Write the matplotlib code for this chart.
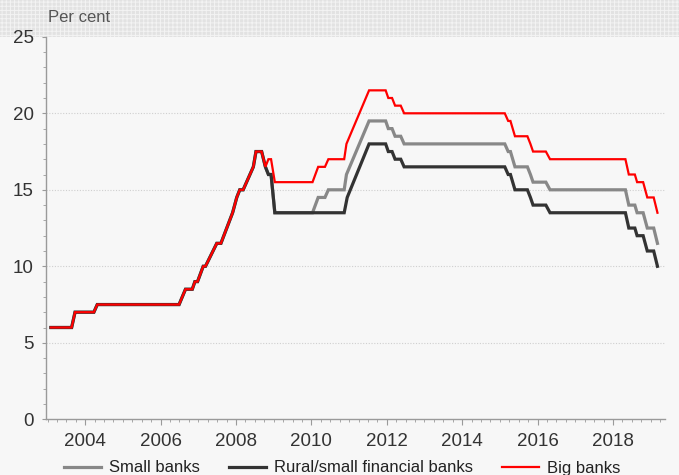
import matplotlib
matplotlib.use("Agg")
import matplotlib.pyplot as plt
from matplotlib.patches import Rectangle
from matplotlib.ticker import MultipleLocator

# vertices (decimal year, per cent)
small_x = [2003.09, 2003.64, 2003.73, 2004.23, 2004.32, 2006.49, 2006.66, 2006.84, 2006.91,
           2006.98, 2007.13, 2007.19, 2007.49, 2007.60, 2007.91, 2008.02, 2008.10, 2008.19,
           2008.46, 2008.53, 2008.68, 2008.78, 2008.86, 2008.93, 2009.03, 2010.03, 2010.18,
           2010.36, 2010.45, 2010.87, 2010.93, 2011.53, 2011.97, 2012.04, 2012.14, 2012.22,
           2012.37, 2012.46, 2015.13, 2015.22, 2015.28, 2015.40, 2015.73, 2015.81, 2015.88,
           2016.22, 2016.33, 2018.33, 2018.42, 2018.58, 2018.64, 2018.80, 2018.91, 2019.08,
           2019.18]
small_y = [6, 6, 7, 7, 7.5, 7.5, 8.5, 8.5, 9,
           9, 10, 10, 11.5, 11.5, 13.5, 14.5, 15, 15,
           16.5, 17.5, 17.5, 16.5, 16, 16, 13.5, 13.5, 14.5,
           14.5, 15, 15, 16, 19.5, 19.5, 19, 19, 18.5,
           18.5, 18, 18, 17.5, 17.5, 16.5, 16.5, 16, 15.5,
           15.5, 15, 15, 14, 14, 13.5, 13.5, 12.5, 12.5,
           11.5]

rural_x = [2003.09, 2003.64, 2003.73, 2004.23, 2004.32, 2006.49, 2006.66, 2006.84, 2006.91,
           2006.98, 2007.13, 2007.19, 2007.49, 2007.60, 2007.91, 2008.02, 2008.10, 2008.19,
           2008.46, 2008.53, 2008.68, 2008.78, 2008.86, 2008.93, 2009.03, 2010.87, 2010.95,
           2011.53, 2011.97, 2012.04, 2012.14, 2012.22, 2012.37, 2012.46, 2015.13, 2015.22,
           2015.28, 2015.40, 2015.73, 2015.81, 2015.88, 2016.22, 2016.33, 2018.33, 2018.42,
           2018.58, 2018.64, 2018.80, 2018.91, 2019.08, 2019.18]
rural_y = [6, 6, 7, 7, 7.5, 7.5, 8.5, 8.5, 9,
           9, 10, 10, 11.5, 11.5, 13.5, 14.5, 15, 15,
           16.5, 17.5, 17.5, 16.5, 16, 16, 13.5, 13.5, 14.5,
           18, 18, 17.5, 17.5, 17, 17, 16.5, 16.5, 16,
           16, 15, 15, 14.5, 14, 14, 13.5, 13.5, 12.5,
           12.5, 12, 12, 11, 11, 10]

big_x = [2003.09, 2003.64, 2003.73, 2004.23, 2004.32, 2006.49, 2006.66, 2006.84, 2006.91,
         2006.98, 2007.13, 2007.19, 2007.49, 2007.60, 2007.91, 2008.02, 2008.10, 2008.19,
         2008.46, 2008.53, 2008.68, 2008.78, 2008.86, 2008.93, 2009.03, 2010.03, 2010.18,
         2010.36, 2010.45, 2010.87, 2010.93, 2011.53, 2011.97, 2012.04, 2012.14, 2012.22,
         2012.37, 2012.46, 2015.13, 2015.22, 2015.28, 2015.40, 2015.73, 2015.81, 2015.88,
         2016.22, 2016.33, 2018.33, 2018.42, 2018.58, 2018.64, 2018.80, 2018.91, 2019.08,
         2019.18]
big_y = [6, 6, 7, 7, 7.5, 7.5, 8.5, 8.5, 9,
         9, 10, 10, 11.5, 11.5, 13.5, 14.5, 15, 15,
         16.5, 17.5, 17.5, 16.5, 17, 17, 15.5, 15.5, 16.5,
         16.5, 17, 17, 18, 21.5, 21.5, 21, 21, 20.5,
         20.5, 20, 20, 19.5, 19.5, 18.5, 18.5, 18, 17.5,
         17.5, 17, 17, 16, 16, 15.5, 15.5, 14.5, 14.5,
         13.5]

year_ticks = [2004, 2006, 2008, 2010, 2012, 2014, 2016, 2018]
y_ticks = [0, 5, 10, 15, 20, 25]

W, H = 679, 475
bg = "#f7f7f7"
plt.rcParams["font.family"] = ["Liberation Sans", "DejaVu Sans"]
plt.rcParams["hatch.linewidth"] = 0.7

fig = plt.figure(figsize=(W / 100, H / 100), dpi=100, facecolor=bg)

# textured header band, kept behind the axes so the "25" label shows on it
band = Rectangle((0, 1 - 37 / H), 1, 37 / H, transform=fig.transFigure,
                 facecolor="#e2e2e2", edgecolor="#f3f3f3", hatch="++++",
                 linewidth=0, zorder=-5)
fig.patches.append(band)

ax = fig.add_axes([46 / W, 1 - 419.3 / H, (665 - 46) / W, (419.3 - 36.8) / H])
ax.set_facecolor(bg)
ax.set_zorder(1)

ax.plot(small_x, small_y, color="#888888", lw=2.3, label="Small banks", solid_joinstyle="miter")
ax.plot(rural_x, rural_y, color="#333333", lw=2.3, label="Rural/small financial banks", solid_joinstyle="miter")
ax.plot(big_x, big_y, color="#ff0000", lw=1.6, label="Big banks", solid_joinstyle="miter")

ax.set_xlim(2002.96, 2019.38)
ax.set_ylim(0, 25)
ax.set_xticks(year_ticks)
ax.set_yticks(y_ticks)
ax.xaxis.set_minor_locator(MultipleLocator(0.25))
ax.yaxis.set_minor_locator(MultipleLocator(1))

for g in [5, 10, 15, 20]:
    ax.axhline(g, color="#cfcfcf", lw=0.8, ls=(0, (1, 1.5)), zorder=0)

for s in ["top", "right"]:
    ax.spines[s].set_visible(False)
for s in ["left", "bottom"]:
    ax.spines[s].set_color("#9a9a9a")
    ax.spines[s].set_linewidth(1.0)

ax.tick_params(axis="both", which="both", direction="out", color="#9a9a9a", labelcolor="#333333")
ax.tick_params(axis="x", which="major", length=4, pad=6, labelsize=13.5)
ax.tick_params(axis="x", which="minor", length=2)
ax.tick_params(axis="y", which="major", length=3, pad=6, labelsize=13.5)
ax.tick_params(axis="y", which="minor", length=2)

fig.text(48 / W, 1 - 18 / H, "Per cent", fontsize=12, color="#555555", va="center", ha="left")

fig.legend(loc="center left", bbox_to_anchor=(64 / W, 1 - 468 / H), ncol=3, frameon=False,
           fontsize=12, handlelength=2.2, handletextpad=0.5, columnspacing=1.75,
           borderpad=0, borderaxespad=0, labelcolor="#222222")

fig.savefig("out.png", dpi=100, facecolor=bg)
